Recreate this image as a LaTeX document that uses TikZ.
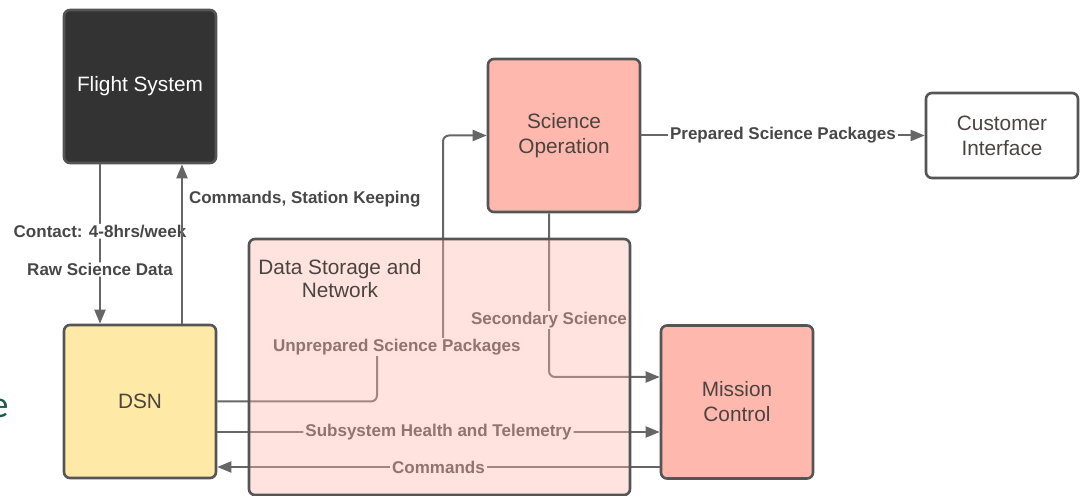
\documentclass[tikz,border=0pt]{standalone}
\usepackage{fontspec}
\setmainfont{Liberation Sans}
\newfontfamily\slidefont{Carlito}
\usepackage{tikz}
\usetikzlibrary{arrows.meta,positioning,calc}

\definecolor{boxline}{HTML}{555555}
\definecolor{linegray}{HTML}{666666}
\definecolor{lbltext}{HTML}{474747}
\definecolor{nodetext}{HTML}{4A4440}
\definecolor{flightfill}{HTML}{333333}
\definecolor{dsnfill}{HTML}{FFE9A6}
\definecolor{salmon}{HTML}{FFB8AE}
\definecolor{slidegreen}{HTML}{1D5C46}

\begin{document}
\begin{tikzpicture}[x=0.5pt, y=-0.5pt,
    blockbox/.style={draw=boxline, line width=1.3pt, rounded corners=3pt,
      minimum width=76pt, minimum height=76.5pt, align=center,
      text=nodetext, font=\fontsize{10.4}{12.5}\selectfont},
    flow/.style={draw=linegray, line width=1pt, rounded corners=3pt,
      -{Triangle[length=7pt,width=5.5pt]}},
    lbl/.style={fill=white, inner xsep=1pt, inner ysep=0.5pt, text=lbltext,
      font=\fontsize{8.5}{10}\selectfont\bfseries}]
    \useasboundingbox (0,0) rectangle (1082,496);

    % stray letter from the slide
    \node[anchor=base east, inner sep=0pt, text=slidegreen,
      font=\slidefont\fontsize{19}{19}\selectfont] (stray) at (9,418) {e};

    % blocks
    \node[blockbox, fill=flightfill, text=white] (fs) at (140,86.5) {Flight System};
    \node[blockbox, fill=dsnfill] (dsn) at (140,401.5) {DSN};
    \node[blockbox, fill=salmon] (sciop) at (564,135.5) {Science\\Operation};
    \node[blockbox, fill=salmon] (mc) at (737,402) {Mission\\Control};
    \node[blockbox, fill=white, minimum height=42.5pt] (ci) at (1002,135.5) {Customer\\Interface};

    % links to and from the flight system
    \draw[flow] ($(fs.south)+(-40,0)$) -- ($(dsn.north)+(-40,0)$)
      node[lbl, pos=0.42] (contact) {Contact: 4-8hrs/week}
      node[lbl, pos=0.66] (rawsci) {Raw Science Data};
    \draw[flow] ($(dsn.north)+(42,0)$) -- ($(fs.south)+(42,0)$)
      node[lbl, fill=none, right, xshift=2pt, pos=0.78] (cmdsk) {Commands, Station Keeping};

    % through data storage and network
    \draw[flow] (dsn.east) -- (377,401.5) -- (377,347)
      -- node[lbl, pos=0.3] (unprep) {Unprepared Science Packages} (443,347)
      -- (443,135.5) -- (sciop.west);
    \draw[flow] ($(sciop.south)+(-15,0)$) -- (549,377) -- ($(mc.west)+(0,-25)$)
      node[lbl] (secsci) at (549,320) {Secondary Science};
    \draw[flow] ($(dsn.east)+(0,30.5)$) -- node[lbl] (health) {Subsystem Health and Telemetry}
      ($(mc.west)+(0,30)$);
    \draw[flow] ($(mc.west)+(0,65)$) -- node[lbl] (cmds) {Commands}
      ($(dsn.east)+(0,65.5)$);

    % out to the customer
    \draw[flow] (sciop.east) -- node[lbl] (prep) {Prepared Science Packages} (ci.west);

    % data storage and network (drawn over its links)
    \node[draw=boxline, line width=1.3pt, rounded corners=3pt, fill=salmon,
      fill opacity=0.4, draw opacity=1, minimum width=190.5pt,
      minimum height=128pt] (dsnet) at (439.5,367) {};
    \node[align=center, text=nodetext, font=\fontsize{10.4}{11.5}\selectfont]
      (dsnettitle) at (340,279) {Data Storage and\\Network};
  \end{tikzpicture}
\end{document}
